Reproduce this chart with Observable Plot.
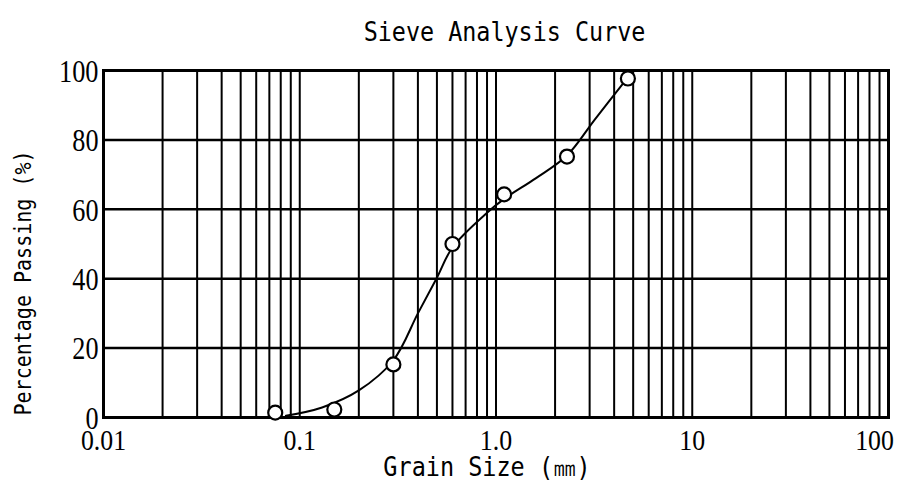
<!DOCTYPE html>
<html>
<head>
<meta charset="utf-8">
<script src="https://cdn.jsdelivr.net/npm/d3@7"></script>
<script src="https://cdn.jsdelivr.net/npm/@observablehq/plot@0.6"></script>
<style>
  html, body { margin: 0; padding: 0; background: #fff; }
  #title {
    height: 50px; box-sizing: border-box; padding-top: 19px; padding-left: 110px;
    font: 26px/26px "DejaVu Sans Mono", monospace; text-align: center; color: #000;
  }
  #title span { display: inline-block; transform: scaleX(0.9); }
  #chart svg { display: block; overflow: visible; }
</style>
</head>
<body>
<div id="title"><span id="titleText"></span></div>
<div id="chart"></div>
<script>
// ---- data ----
const titleText = "Sieve Analysis Curve";
const xLabel = "Grain Size (㎜)";
const yLabel = "Percentage Passing (%)";

const xTicks = [0.01, 0.1, 1, 10, 100];
const xTickLabels = ["0.01", "0.1", "1.0", "10", "100"];
const yTicks = [0, 20, 40, 60, 80, 100];

// measured sieve points (open circles)
const sieveSize = [0.075, 0.15, 0.3, 0.6, 1.1, 2.3, 4.7];
const passing   = [1.4, 2.3, 15.3, 50, 64.3, 75.2, 97.7];

// hand-drawn smooth curve
const curveSize    = [0.085, 0.13, 0.2, 0.3, 0.4, 0.5, 0.6, 0.9, 1.1, 1.6, 2.3, 3.2, 4.7];
const curvePassing = [0.5, 2.9, 7.8, 16.5, 30, 40.3, 49, 59, 63, 69, 75.5, 86, 98];

// log-paper vertical grid (1..9 per decade)
const decades = [0.01, 0.1, 1, 10];
const multiples = [1, 2, 3, 4, 5, 6, 7, 8, 9];
const gridX = decades.flatMap(d => multiples.map(m => m * d)).concat([100]);

const points = sieveSize.map((s, i) => ({s, p: passing[i]}));
const curve = curveSize.map((s, i) => ({s, p: curvePassing[i]}));
const labelOf = new Map(xTicks.map((t, i) => [t, xTickLabels[i]]));

document.getElementById("titleText").textContent = titleText;

const W = 900, H = 431;
const tickFont = "Liberation Serif";
const monoFont = "DejaVu Sans Mono";

const chart = Plot.plot({
  width: W,
  height: H,
  marginLeft: 103,
  marginRight: 12,
  marginTop: 20,
  marginBottom: 64,
  style: {background: "#fff", color: "#000"},
  x: {type: "log", domain: [0.01, 100]},
  y: {domain: [0, 100]},
  marks: [
    Plot.ruleX(gridX, {stroke: "#000", strokeWidth: 2}),
    Plot.ruleY(yTicks, {stroke: "#000", strokeWidth: 2.5}),
    Plot.frame({stroke: "#000", strokeWidth: 3}),
    Plot.line(curve, {x: "s", y: "p", curve: "catmull-rom", stroke: "#000", strokeWidth: 2}),
    Plot.dot(points, {x: "s", y: "p", r: 7, fill: "#fff", stroke: "#000", strokeWidth: 2.2}),
    Plot.axisX(xTicks.slice(0, 4), {
      tickSize: 0, tickPadding: 11, label: null,
      tickFormat: d => labelOf.get(d),
      fontFamily: tickFont, fontSize: 30
    }),
    Plot.axisX([100], {
      tickSize: 0, tickPadding: 11, label: null, dx: -14,
      tickFormat: d => labelOf.get(d),
      fontFamily: tickFont, fontSize: 30
    }),
    Plot.axisY(yTicks, {
      tickSize: 0, tickPadding: 5, label: null, dy: 1,
      fontFamily: tickFont, fontSize: 32
    }),
    Plot.text([xLabel], {
      frameAnchor: "bottom", textAnchor: "middle", text: d => d, dx: -9, dy: 50,
      lineAnchor: "middle", fontFamily: monoFont, fontSize: 27, fill: "#000"
    }),
    Plot.text([yLabel], {
      frameAnchor: "left", textAnchor: "middle", text: d => d, rotate: -90, dx: -80, dy: 39,
      lineAnchor: "middle", fontFamily: monoFont, fontSize: 23, fill: "#000"
    })
  ]
});

document.getElementById("chart").appendChild(chart);

// condense glyphs horizontally (tall, narrow typewriter lettering of the original)
function condense(textEl, s) {
  const L = textEl.getComputedTextLength();
  if (L > 0) {
    textEl.setAttribute("textLength", (L * s).toFixed(1));
    textEl.setAttribute("lengthAdjust", "spacingAndGlyphs");
  }
}
d3.select(chart).selectAll('g[aria-label="x-axis tick label"] text').each(function() { condense(this, 0.86); });
d3.select(chart).selectAll('g[aria-label="y-axis tick label"] text').each(function() { condense(this, 0.82); });
d3.select(chart).selectAll('g[aria-label="text"] text').each(function() { condense(this, 0.87); });
</script>
</body>
</html>
